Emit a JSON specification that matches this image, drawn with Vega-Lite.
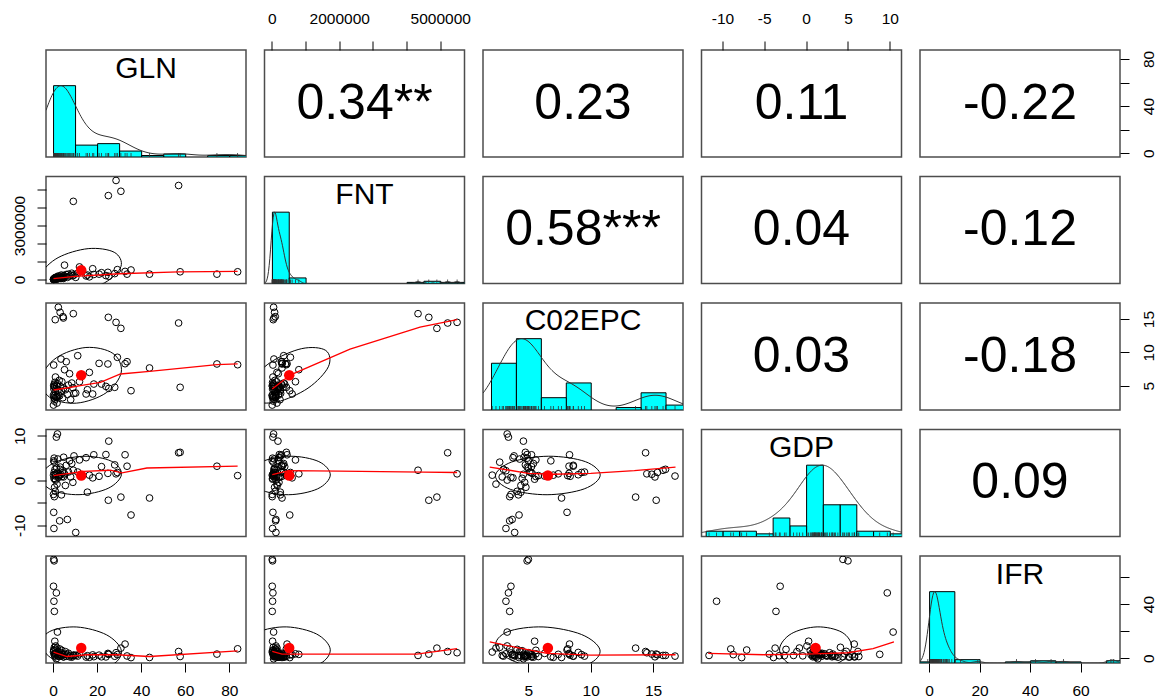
{
"$schema":"https://vega.github.io/schema/vega-lite/v6.json",
"background":"white",
"padding":{"left":11,"top":10,"right":5,"bottom":5},
"config":{
 "font":"Liberation Sans",
 "view":{"stroke":"#4d4d4d","strokeWidth":1.5},
 "axis":{"domain":false,"grid":false,"ticks":true,"tickColor":"black","tickWidth":1,"tickSize":9,"labelFont":"Liberation Sans","labelFontSize":15.5,"labelColor":"black","labelPadding":9,"labelOverlap":false,"labelBound":false,"labelFlush":false}
},
"datasets":{
"d":[
{"GLN":0.2,"FNT":10000,"C02EPC":2.1,"GDP":1.2,"IFR":4.5},
{"GLN":0.3,"FNT":30000,"C02EPC":8.1,"GDP":-7.1,"IFR":6.0},
{"GLN":0.4,"FNT":20000,"C02EPC":4.5,"GDP":0.5,"IFR":5.5},
{"GLN":0.5,"FNT":50000,"C02EPC":5.2,"GDP":1.8,"IFR":3.0},
{"GLN":0.6,"FNT":40000,"C02EPC":2.7,"GDP":4.1,"IFR":8.0},
{"GLN":0.7,"FNT":80000,"C02EPC":4.8,"GDP":-1.5,"IFR":2.0},
{"GLN":0.8,"FNT":20000,"C02EPC":5.5,"GDP":0.3,"IFR":12.5},
{"GLN":0.9,"FNT":60000,"C02EPC":3.0,"GDP":2.5,"IFR":1.5},
{"GLN":1.0,"FNT":100000,"C02EPC":4.1,"GDP":-2.4,"IFR":6.5},
{"GLN":1.1,"FNT":30000,"C02EPC":6.3,"GDP":1.0,"IFR":3.5},
{"GLN":1.2,"FNT":120000,"C02EPC":3.3,"GDP":0.1,"IFR":9.0},
{"GLN":1.4,"FNT":50000,"C02EPC":4.6,"GDP":1.4,"IFR":-0.5},
{"GLN":1.6,"FNT":80000,"C02EPC":5.0,"GDP":2.8,"IFR":4.0},
{"GLN":1.8,"FNT":150000,"C02EPC":2.4,"GDP":-0.8,"IFR":7.5},
{"GLN":2.0,"FNT":40000,"C02EPC":5.3,"GDP":1.6,"IFR":2.5},
{"GLN":2.2,"FNT":70000,"C02EPC":4.3,"GDP":4.8,"IFR":5.0},
{"GLN":2.5,"FNT":200000,"C02EPC":3.6,"GDP":0.7,"IFR":3.8},
{"GLN":2.8,"FNT":90000,"C02EPC":5.8,"GDP":1.1,"IFR":1.2},
{"GLN":3.0,"FNT":110000,"C02EPC":3.5,"GDP":-9.0,"IFR":6.8},
{"GLN":3.3,"FNT":180000,"C02EPC":4.9,"GDP":3.0,"IFR":2.2},
{"GLN":3.6,"FNT":60000,"C02EPC":9.0,"GDP":1.3,"IFR":4.2},
{"GLN":3.8,"FNT":250000,"C02EPC":4.2,"GDP":-3.2,"IFR":1.8},
{"GLN":4.0,"FNT":140000,"C02EPC":5.6,"GDP":0.9,"IFR":5.8},
{"GLN":4.4,"FNT":100000,"C02EPC":3.2,"GDP":2.2,"IFR":3.2},
{"GLN":4.8,"FNT":220000,"C02EPC":4.65,"GDP":5.2,"IFR":0.9},
{"GLN":5.2,"FNT":800000,"C02EPC":7.4,"GDP":1.5,"IFR":2.8},
{"GLN":5.6,"FNT":160000,"C02EPC":4.4,"GDP":-1.1,"IFR":4.8},
{"GLN":6.0,"FNT":280000,"C02EPC":8.6,"GDP":3.4,"IFR":1.4},
{"GLN":6.5,"FNT":120000,"C02EPC":3.7,"GDP":-8.7,"IFR":2.6},
{"GLN":7.0,"FNT":300000,"C02EPC":5.1,"GDP":1.9,"IFR":3.6},
{"GLN":7.5,"FNT":190000,"C02EPC":6.8,"GDP":4.4,"IFR":1.0},
{"GLN":8.0,"FNT":240000,"C02EPC":2.9,"GDP":0.8,"IFR":2.0},
{"GLN":8.5,"FNT":350000,"C02EPC":5.4,"GDP":3.8,"IFR":0.7},
{"GLN":9.0,"FNT":210000,"C02EPC":4.7,"GDP":-0.4,"IFR":1.7},
{"GLN":9.5,"FNT":260000,"C02EPC":3.85,"GDP":5.5,"IFR":2.3},
{"GLN":10.3,"FNT":120000,"C02EPC":3.9,"GDP":-11.6,"IFR":2.0},
{"GLN":11.2,"FNT":350000,"C02EPC":9.5,"GDP":1.9,"IFR":1.5},
{"GLN":12.0,"FNT":700000,"C02EPC":5.6,"GDP":4.6,"IFR":3.2},
{"GLN":15.0,"FNT":200000,"C02EPC":3.76,"GDP":5.1,"IFR":0.8},
{"GLN":15.6,"FNT":250000,"C02EPC":4.4,"GDP":-2.6,"IFR":1.8},
{"GLN":18.0,"FNT":600000,"C02EPC":3.76,"GDP":0.6,"IFR":2.4},
{"GLN":18.5,"FNT":280000,"C02EPC":5.25,"GDP":5.75,"IFR":1.1},
{"GLN":16.5,"FNT":150000,"C02EPC":7.0,"GDP":1.2,"IFR":0.6},
{"GLN":20.9,"FNT":300000,"C02EPC":8.35,"GDP":0.95,"IFR":2.2},
{"GLN":22.0,"FNT":380000,"C02EPC":5.25,"GDP":3.1,"IFR":1.0},
{"GLN":24.0,"FNT":220000,"C02EPC":4.9,"GDP":5.8,"IFR":0.9},
{"GLN":24.9,"FNT":400000,"C02EPC":8.26,"GDP":1.6,"IFR":3.5},
{"GLN":25.3,"FNT":180000,"C02EPC":4.6,"GDP":8.8,"IFR":2.8},
{"GLN":28.0,"FNT":330000,"C02EPC":4.76,"GDP":3.5,"IFR":1.4},
{"GLN":29.2,"FNT":550000,"C02EPC":9.26,"GDP":1.8,"IFR":2.6},
{"GLN":32.7,"FNT":450000,"C02EPC":8.3,"GDP":5.75,"IFR":10.4},
{"GLN":33.6,"FNT":300000,"C02EPC":8.6,"GDP":3.2,"IFR":1.6},
{"GLN":35.4,"FNT":530000,"C02EPC":4.25,"GDP":-7.7,"IFR":0.4},
{"GLN":9.2,"FNT":4340000,"C02EPC":15.8,"GDP":2.3,"IFR":2.0},
{"GLN":25.1,"FNT":4660000,"C02EPC":15.25,"GDP":-4.4,"IFR":3.0},
{"GLN":28.6,"FNT":5500000,"C02EPC":14.5,"GDP":1.5,"IFR":4.0},
{"GLN":30.8,"FNT":4900000,"C02EPC":13.6,"GDP":-3.7,"IFR":7.4},
{"GLN":57.0,"FNT":5220000,"C02EPC":14.4,"GDP":6.2,"IFR":4.9},
{"GLN":43.8,"FNT":300000,"C02EPC":7.66,"GDP":-3.9,"IFR":0.5},
{"GLN":57.7,"FNT":430000,"C02EPC":4.76,"GDP":6.3,"IFR":1.2},
{"GLN":74.4,"FNT":300000,"C02EPC":8.26,"GDP":3.2,"IFR":3.0},
{"GLN":83.8,"FNT":430000,"C02EPC":8.15,"GDP":1.1,"IFR":6.9},
{"GLN":2.4,"FNT":50000,"C02EPC":16.76,"GDP":1.0,"IFR":1.5},
{"GLN":3.2,"FNT":80000,"C02EPC":16.0,"GDP":2.5,"IFR":2.0},
{"GLN":4.5,"FNT":100000,"C02EPC":15.35,"GDP":1.8,"IFR":2.5},
{"GLN":4.7,"FNT":60000,"C02EPC":15.15,"GDP":0.8,"IFR":1.0},
{"GLN":1.0,"FNT":40000,"C02EPC":14.9,"GDP":1.4,"IFR":3.0},
{"GLN":0.3,"FNT":10000,"C02EPC":5.0,"GDP":4.4,"IFR":73.1},
{"GLN":0.5,"FNT":20000,"C02EPC":4.9,"GDP":5.0,"IFR":72.0},
{"GLN":0.2,"FNT":10000,"C02EPC":3.6,"GDP":-3.1,"IFR":53.2},
{"GLN":1.5,"FNT":30000,"C02EPC":3.4,"GDP":9.7,"IFR":48.3},
{"GLN":0.4,"FNT":20000,"C02EPC":3.2,"GDP":-10.7,"IFR":42.1},
{"GLN":0.6,"FNT":10000,"C02EPC":3.5,"GDP":-3.6,"IFR":34.6},
{"GLN":2.0,"FNT":50000,"C02EPC":3.3,"GDP":10.4,"IFR":19.3}
],
"ell":[
{"p":"21","k":0,"GLN":27.78,"FNT":1513000},{"p":"21","k":1,"GLN":15.96,"FNT":1716000},{"p":"21","k":2,"GLN":2.29,"FNT":1215000},{"p":"21","k":3,"GLN":-5.23,"FNT":303000},{"p":"21","k":4,"GLN":-2.18,"FNT":-485000},{"p":"21","k":5,"GLN":9.64,"FNT":-688000},{"p":"21","k":6,"GLN":23.31,"FNT":-187000},{"p":"21","k":7,"GLN":30.83,"FNT":725000},
{"p":"31","k":0,"GLN":27.15,"C02EPC":9.85},{"p":"31","k":1,"GLN":14.92,"C02EPC":10.73},{"p":"31","k":2,"GLN":1.44,"C02EPC":9.17},{"p":"31","k":3,"GLN":-5.38,"C02EPC":6.07},{"p":"31","k":4,"GLN":-1.55,"C02EPC":3.27},{"p":"31","k":5,"GLN":10.68,"C02EPC":2.39},{"p":"31","k":6,"GLN":24.16,"C02EPC":3.95},{"p":"31","k":7,"GLN":30.98,"C02EPC":7.05},
{"p":"41","k":0,"GLN":26.43,"GDP":4.33},{"p":"41","k":1,"GLN":13.81,"GDP":5.42},{"p":"41","k":2,"GLN":0.59,"GDP":4.0},{"p":"41","k":3,"GLN":-5.47,"GDP":0.89},{"p":"41","k":4,"GLN":-0.83,"GDP":-2.07},{"p":"41","k":5,"GLN":11.79,"GDP":-3.16},{"p":"41","k":6,"GLN":25.01,"GDP":-1.74},{"p":"41","k":7,"GLN":31.07,"GDP":1.37},
{"p":"51","k":0,"GLN":24.23,"IFR":17.29},{"p":"51","k":1,"GLN":10.77,"IFR":23.05},{"p":"51","k":2,"GLN":-1.49,"IFR":19.73},{"p":"51","k":3,"GLN":-5.39,"IFR":9.28},{"p":"51","k":4,"GLN":1.37,"IFR":-2.19},{"p":"51","k":5,"GLN":14.83,"IFR":-7.95},{"p":"51","k":6,"GLN":27.09,"IFR":-4.63},{"p":"51","k":7,"GLN":30.99,"IFR":5.82},
{"p":"32","k":0,"FNT":1598000,"C02EPC":10.29},{"p":"32","k":1,"FNT":885000,"C02EPC":10.56},{"p":"32","k":2,"FNT":-45000,"C02EPC":8.49},{"p":"32","k":3,"FNT":-648000,"C02EPC":5.28},{"p":"32","k":4,"FNT":-570000,"C02EPC":2.83},{"p":"32","k":5,"FNT":143000,"C02EPC":2.56},{"p":"32","k":6,"FNT":1073000,"C02EPC":4.64},{"p":"32","k":7,"FNT":1676000,"C02EPC":7.84},
{"p":"42","k":0,"FNT":1394000,"GDP":4.23},{"p":"42","k":1,"FNT":538000,"GDP":5.43},{"p":"42","k":2,"FNT":-331000,"GDP":4.11},{"p":"42","k":3,"FNT":-706000,"GDP":1.04},{"p":"42","k":4,"FNT":-366000,"GDP":-1.97},{"p":"42","k":5,"FNT":490000,"GDP":-3.17},{"p":"42","k":6,"FNT":1359000,"GDP":-1.85},{"p":"42","k":7,"FNT":1734000,"GDP":1.22},
{"p":"52","k":0,"FNT":1323000,"IFR":17.9},{"p":"52","k":1,"FNT":441000,"IFR":23.12},{"p":"52","k":2,"FNT":-399000,"IFR":19.22},{"p":"52","k":3,"FNT":-704000,"IFR":8.49},{"p":"52","k":4,"FNT":-295000,"IFR":-2.8},{"p":"52","k":5,"FNT":587000,"IFR":-8.02},{"p":"52","k":6,"FNT":1427000,"IFR":-4.12},{"p":"52","k":7,"FNT":1732000,"IFR":6.61},
{"p":"43","k":0,"C02EPC":9.57,"GDP":4.22},{"p":"43","k":1,"C02EPC":6.62,"GDP":5.43},{"p":"43","k":2,"C02EPC":3.64,"GDP":4.12},{"p":"43","k":3,"C02EPC":2.36,"GDP":1.07},{"p":"43","k":4,"C02EPC":3.55,"GDP":-1.96},{"p":"43","k":5,"C02EPC":6.5,"GDP":-3.17},{"p":"43","k":6,"C02EPC":9.48,"GDP":-1.86},{"p":"43","k":7,"C02EPC":10.76,"GDP":1.19},
{"p":"53","k":0,"C02EPC":9.25,"IFR":17.54},{"p":"53","k":1,"C02EPC":6.18,"IFR":23.09},{"p":"53","k":2,"C02EPC":3.33,"IFR":19.53},{"p":"53","k":3,"C02EPC":2.38,"IFR":8.96},{"p":"53","k":4,"C02EPC":3.87,"IFR":-2.44},{"p":"53","k":5,"C02EPC":6.94,"IFR":-7.99},{"p":"53","k":6,"C02EPC":9.79,"IFR":-4.43},{"p":"53","k":7,"C02EPC":10.74,"IFR":6.14},
{"p":"54","k":0,"GDP":4.3,"IFR":19.07},{"p":"54","k":1,"GDP":1.32,"IFR":23.13},{"p":"54","k":2,"GDP":-1.77,"IFR":18.07},{"p":"54","k":3,"GDP":-3.17,"IFR":6.85},{"p":"54","k":4,"GDP":-2.04,"IFR":-3.97},{"p":"54","k":5,"GDP":0.94,"IFR":-8.03},{"p":"54","k":6,"GDP":4.03,"IFR":-2.97},{"p":"54","k":7,"GDP":5.43,"IFR":8.25}
],
"fit":[
{"p":"21","k":0,"GLN":0.2,"FNT":50000},{"p":"21","k":1,"GLN":10,"FNT":170000},{"p":"21","k":2,"GLN":30,"FNT":320000},{"p":"21","k":3,"GLN":57,"FNT":420000},{"p":"21","k":4,"GLN":83.8,"FNT":450000},
{"p":"31","k":0,"GLN":0.2,"C02EPC":4.36},{"p":"31","k":1,"GLN":6.3,"C02EPC":4.66},{"p":"31","k":2,"GLN":12.4,"C02EPC":5.0},{"p":"31","k":3,"GLN":21.5,"C02EPC":5.5},{"p":"31","k":4,"GLN":30.6,"C02EPC":6.76},{"p":"31","k":5,"GLN":43.8,"C02EPC":7.16},{"p":"31","k":6,"GLN":74.4,"C02EPC":8.15},{"p":"31","k":7,"GLN":83.8,"C02EPC":8.26},
{"p":"41","k":0,"GLN":0.2,"GDP":1.1},{"p":"41","k":1,"GLN":13.8,"GDP":2.06},{"p":"41","k":2,"GLN":26,"GDP":2.3},{"p":"41","k":3,"GLN":31.3,"GDP":1.7},{"p":"41","k":4,"GLN":42.6,"GDP":2.8},{"p":"41","k":5,"GLN":83.8,"GDP":3.2},
{"p":"51","k":0,"GLN":0.2,"IFR":4.5},{"p":"51","k":1,"GLN":6.3,"IFR":1.2},{"p":"51","k":2,"GLN":15.4,"IFR":2.5},{"p":"51","k":3,"GLN":29,"IFR":2.5},{"p":"51","k":4,"GLN":43.8,"IFR":1.2},{"p":"51","k":5,"GLN":83.8,"IFR":5.4},
{"p":"32","k":0,"FNT":10000,"C02EPC":4.5},{"p":"32","k":1,"FNT":540000,"C02EPC":6.6},{"p":"32","k":2,"FNT":2320000,"C02EPC":10.5},{"p":"32","k":3,"FNT":4400000,"C02EPC":13.8},{"p":"32","k":4,"FNT":5500000,"C02EPC":14.9},
{"p":"42","k":0,"FNT":10000,"GDP":1.3},{"p":"42","k":1,"FNT":500000,"GDP":2.2},{"p":"42","k":2,"FNT":2000000,"GDP":2.1},{"p":"42","k":3,"FNT":4500000,"GDP":1.9},{"p":"42","k":4,"FNT":5500000,"GDP":1.8},
{"p":"52","k":0,"FNT":10000,"IFR":5},{"p":"52","k":1,"FNT":300000,"IFR":3},{"p":"52","k":2,"FNT":4300000,"IFR":3},{"p":"52","k":3,"FNT":5500000,"IFR":7},
{"p":"43","k":0,"C02EPC":1.9,"GDP":3.0},{"p":"43","k":1,"C02EPC":3.5,"GDP":2.3},{"p":"43","k":2,"C02EPC":5,"GDP":1.6},{"p":"43","k":3,"C02EPC":7,"GDP":1.4},{"p":"43","k":4,"C02EPC":10,"GDP":1.6},{"p":"43","k":5,"C02EPC":13.5,"GDP":2.2},{"p":"43","k":6,"C02EPC":16.8,"GDP":3.0},
{"p":"53","k":0,"C02EPC":1.9,"IFR":12},{"p":"53","k":1,"C02EPC":4,"IFR":8},{"p":"53","k":2,"C02EPC":6.5,"IFR":3.5},{"p":"53","k":3,"C02EPC":10,"IFR":2.3},{"p":"53","k":4,"C02EPC":16.8,"IFR":2.5},
{"p":"54","k":0,"GDP":-11.7,"IFR":3.5},{"p":"54","k":1,"GDP":-5,"IFR":2.5},{"p":"54","k":2,"GDP":0,"IFR":3},{"p":"54","k":3,"GDP":5,"IFR":4},{"p":"54","k":4,"GDP":8,"IFR":7},{"p":"54","k":5,"GDP":10.5,"IFR":12}
]
},
"columns":5,
"spacing":{"row":19.5,"column":18.5},
"bounds":"flush",
"concat":[
{"width":200,"height":107,"resolve":{"scale":{"y":"independent"}},"layer":[
 {"data":{"name":"d"},"mark":{"type":"bar","fill":"#00FFFF","stroke":"black","strokeWidth":1,"binSpacing":0,"clip":true},"encoding":{"x":{"field":"GLN","type":"quantitative","bin":{"extent":[0,90],"step":10},"scale":{"domain":[-3.2,87.6],"nice":false,"zero":false},"axis":null},"y":{"aggregate":"count","type":"quantitative","scale":{"range":[107,35.667],"nice":false,"zero":true},"axis":null}}},
 {"data":{"name":"d"},"transform":[{"density":"GLN","bandwidth":6.5,"extent":[-3.2,87.6],"steps":200}],"mark":{"type":"line","stroke":"#333333","strokeWidth":1,"clip":true},"encoding":{"x":{"field":"value","type":"quantitative","scale":{"domain":[-3.2,87.6],"nice":false,"zero":false},"axis":null},"y":{"field":"density","type":"quantitative","scale":{"range":[107,35.667],"nice":false,"zero":true},"axis":null}}},
 {"data":{"name":"d"},"mark":{"type":"tick","orient":"vertical","color":"#333333","opacity":1,"size":4,"thickness":0.8,"yOffset":-2,"clip":true},"encoding":{"x":{"field":"GLN","type":"quantitative","scale":{"domain":[-3.2,87.6],"nice":false,"zero":false},"axis":null},"y":{"datum":-3.2,"type":"quantitative","scale":{"domain":[-3.2,87.6],"nice":false,"zero":false},"axis":null}}},
 {"data":{"values":[{}]},"mark":{"type":"text","text":"GLN","fontSize":30,"color":"black"},"encoding":{"x":{"datum":42.2,"type":"quantitative","scale":{"domain":[-3.2,87.6],"nice":false,"zero":false},"axis":null},"y":{"datum":71.9,"type":"quantitative","scale":{"domain":[-3.2,87.6],"nice":false,"zero":false},"axis":null}}}
]},
{"width":200,"height":107,"data":{"values":[{}]},"mark":{"type":"text","text":"0.34**","fontSize":50,"color":"black"},"encoding":{"x":{"datum":2750000,"type":"quantitative","scale":{"domain":[-220000,5720000],"nice":false,"zero":false},"axis":{"orient":"top","title":null,"values":[0,1000000,2000000,3000000,4000000,5000000],"labelExpr":"(datum.value==0||datum.value==2000000||datum.value==5000000) ? toString(datum.value) : ''","labelAngle":0,"labelAlign":"center","labelBaseline":"bottom","labelPadding":15}},"y":{"datum":42.2,"type":"quantitative","scale":{"domain":[-3.2,87.6],"nice":false,"zero":false},"axis":null}}},
{"width":200,"height":107,"data":{"values":[{}]},"mark":{"type":"text","text":"0.23","fontSize":50,"color":"black"},"encoding":{"x":{"datum":9.38,"type":"quantitative","scale":{"domain":[1.36,17.4],"nice":false,"zero":false},"axis":null},"y":{"datum":42.2,"type":"quantitative","scale":{"domain":[-3.2,87.6],"nice":false,"zero":false},"axis":null}}},
{"width":200,"height":107,"data":{"values":[{}]},"mark":{"type":"text","text":"0.11","fontSize":50,"color":"black"},"encoding":{"x":{"datum":-0.55,"type":"quantitative","scale":{"domain":[-12.5,11.4],"nice":false,"zero":false},"axis":{"orient":"top","title":null,"values":[-10,-5,0,5,10],"labelExpr":"toString(datum.value)","labelAngle":0,"labelAlign":"center","labelBaseline":"bottom","labelPadding":15}},"y":{"datum":42.2,"type":"quantitative","scale":{"domain":[-3.2,87.6],"nice":false,"zero":false},"axis":null}}},
{"width":200,"height":107,"data":{"values":[{}]},"mark":{"type":"text","text":"-0.22","fontSize":50,"color":"black"},"encoding":{"x":{"datum":36,"type":"quantitative","scale":{"domain":[-3.6,75.6],"nice":false,"zero":false},"axis":null},"y":{"datum":42.2,"type":"quantitative","scale":{"domain":[-3.2,87.6],"nice":false,"zero":false},"axis":{"orient":"right","title":null,"values":[0,20,40,60,80],"labelExpr":"(datum.value==0||datum.value==40||datum.value==80) ? toString(datum.value) : ''","labelAngle":-90,"labelAlign":"center","labelBaseline":"top","labelPadding":12}}}},

{"width":200,"height":107,"resolve":{"scale":{"y":"independent"}},"encoding":{"x":{"field":"GLN","type":"quantitative","scale":{"domain":[-3.2,87.6],"nice":false,"zero":false},"axis":null},"y":{"field":"FNT","type":"quantitative","scale":{"domain":[-220000,5720000],"nice":false,"zero":false},"axis":null}},"layer":[
 {"data":{"name":"d"},"mark":{"type":"point","shape":"circle","filled":false,"stroke":"black","strokeWidth":1,"size":45,"opacity":1,"clip":true}},
 {"data":{"name":"ell"},"transform":[{"filter":"datum.p=='21'"}],"mark":{"type":"line","interpolate":"cardinal-closed","stroke":"black","strokeWidth":1,"clip":true},"encoding":{"order":{"field":"k","type":"quantitative"}}},
 {"data":{"name":"fit"},"transform":[{"filter":"datum.p=='21'"}],"mark":{"type":"line","stroke":"red","strokeWidth":1.3,"clip":true},"encoding":{"order":{"field":"k","type":"quantitative"}}},
 {"data":{"name":"d"},"mark":{"type":"point","shape":"circle","filled":true,"fill":"red","strokeWidth":0,"size":110,"opacity":1,"clip":true},"encoding":{"x":{"aggregate":"mean","field":"GLN","type":"quantitative","scale":{"domain":[-3.2,87.6],"nice":false,"zero":false},"axis":null},"y":{"aggregate":"mean","field":"FNT","type":"quantitative","scale":{"domain":[-220000,5720000],"nice":false,"zero":false},"axis":null}}},
 {"data":{"values":[{}]},"mark":{"type":"text","text":""},"encoding":{"x":{"datum":42.2,"type":"quantitative","scale":{"domain":[-3.2,87.6],"nice":false,"zero":false},"axis":null},"y":{"datum":2750000,"type":"quantitative","scale":{"domain":[-220000,5720000],"nice":false,"zero":false},"axis":{"orient":"left","title":null,"values":[0,1000000,2000000,3000000,4000000,5000000],"labelExpr":"(datum.value==0||datum.value==3000000) ? toString(datum.value) : ''","labelAngle":-90,"labelAlign":"center","labelBaseline":"bottom","labelPadding":10}}}}
]},
{"width":200,"height":107,"resolve":{"scale":{"y":"independent"}},"layer":[
 {"data":{"name":"d"},"mark":{"type":"bar","fill":"#00FFFF","stroke":"black","strokeWidth":1,"binSpacing":0,"clip":true},"encoding":{"x":{"field":"FNT","type":"quantitative","bin":{"extent":[0,6000000],"step":500000},"scale":{"domain":[-220000,5720000],"nice":false,"zero":false},"axis":null},"y":{"aggregate":"count","type":"quantitative","scale":{"range":[107,35.667],"nice":false,"zero":true},"axis":null}}},
 {"data":{"name":"d"},"transform":[{"density":"FNT","bandwidth":80000,"extent":[-220000,5720000],"steps":300}],"mark":{"type":"line","stroke":"#333333","strokeWidth":1,"clip":true},"encoding":{"x":{"field":"value","type":"quantitative","scale":{"domain":[-220000,5720000],"nice":false,"zero":false},"axis":null},"y":{"field":"density","type":"quantitative","scale":{"range":[107,35.667],"nice":false,"zero":true},"axis":null}}},
 {"data":{"name":"d"},"mark":{"type":"tick","orient":"vertical","color":"#333333","opacity":1,"size":4,"thickness":0.8,"yOffset":-2,"clip":true},"encoding":{"x":{"field":"FNT","type":"quantitative","scale":{"domain":[-220000,5720000],"nice":false,"zero":false},"axis":null},"y":{"datum":-220000,"type":"quantitative","scale":{"domain":[-220000,5720000],"nice":false,"zero":false},"axis":null}}},
 {"data":{"values":[{}]},"mark":{"type":"text","text":"FNT","fontSize":30,"color":"black"},"encoding":{"x":{"datum":2750000,"type":"quantitative","scale":{"domain":[-220000,5720000],"nice":false,"zero":false},"axis":null},"y":{"datum":4690000,"type":"quantitative","scale":{"domain":[-220000,5720000],"nice":false,"zero":false},"axis":null}}}
]},
{"width":200,"height":107,"data":{"values":[{}]},"mark":{"type":"text","text":"0.58***","fontSize":50,"color":"black"},"encoding":{"x":{"datum":9.38,"type":"quantitative","scale":{"domain":[1.36,17.4],"nice":false,"zero":false},"axis":null},"y":{"datum":2750000,"type":"quantitative","scale":{"domain":[-220000,5720000],"nice":false,"zero":false},"axis":null}}},
{"width":200,"height":107,"data":{"values":[{}]},"mark":{"type":"text","text":"0.04","fontSize":50,"color":"black"},"encoding":{"x":{"datum":-0.55,"type":"quantitative","scale":{"domain":[-12.5,11.4],"nice":false,"zero":false},"axis":null},"y":{"datum":2750000,"type":"quantitative","scale":{"domain":[-220000,5720000],"nice":false,"zero":false},"axis":null}}},
{"width":200,"height":107,"data":{"values":[{}]},"mark":{"type":"text","text":"-0.12","fontSize":50,"color":"black"},"encoding":{"x":{"datum":36,"type":"quantitative","scale":{"domain":[-3.6,75.6],"nice":false,"zero":false},"axis":null},"y":{"datum":2750000,"type":"quantitative","scale":{"domain":[-220000,5720000],"nice":false,"zero":false},"axis":null}}},

{"width":200,"height":107,"encoding":{"x":{"field":"GLN","type":"quantitative","scale":{"domain":[-3.2,87.6],"nice":false,"zero":false},"axis":null},"y":{"field":"C02EPC","type":"quantitative","scale":{"domain":[1.36,17.4],"nice":false,"zero":false},"axis":null}},"layer":[
 {"data":{"name":"d"},"mark":{"type":"point","shape":"circle","filled":false,"stroke":"black","strokeWidth":1,"size":45,"opacity":1,"clip":true}},
 {"data":{"name":"ell"},"transform":[{"filter":"datum.p=='31'"}],"mark":{"type":"line","interpolate":"cardinal-closed","stroke":"black","strokeWidth":1,"clip":true},"encoding":{"order":{"field":"k","type":"quantitative"}}},
 {"data":{"name":"fit"},"transform":[{"filter":"datum.p=='31'"}],"mark":{"type":"line","stroke":"red","strokeWidth":1.3,"clip":true},"encoding":{"order":{"field":"k","type":"quantitative"}}},
 {"data":{"name":"d"},"mark":{"type":"point","shape":"circle","filled":true,"fill":"red","strokeWidth":0,"size":110,"opacity":1,"clip":true},"encoding":{"x":{"aggregate":"mean","field":"GLN","type":"quantitative","scale":{"domain":[-3.2,87.6],"nice":false,"zero":false},"axis":null},"y":{"aggregate":"mean","field":"C02EPC","type":"quantitative","scale":{"domain":[1.36,17.4],"nice":false,"zero":false},"axis":null}}}
]},
{"width":200,"height":107,"encoding":{"x":{"field":"FNT","type":"quantitative","scale":{"domain":[-220000,5720000],"nice":false,"zero":false},"axis":null},"y":{"field":"C02EPC","type":"quantitative","scale":{"domain":[1.36,17.4],"nice":false,"zero":false},"axis":null}},"layer":[
 {"data":{"name":"d"},"mark":{"type":"point","shape":"circle","filled":false,"stroke":"black","strokeWidth":1,"size":45,"opacity":1,"clip":true}},
 {"data":{"name":"ell"},"transform":[{"filter":"datum.p=='32'"}],"mark":{"type":"line","interpolate":"cardinal-closed","stroke":"black","strokeWidth":1,"clip":true},"encoding":{"order":{"field":"k","type":"quantitative"}}},
 {"data":{"name":"fit"},"transform":[{"filter":"datum.p=='32'"}],"mark":{"type":"line","stroke":"red","strokeWidth":1.3,"clip":true},"encoding":{"order":{"field":"k","type":"quantitative"}}},
 {"data":{"name":"d"},"mark":{"type":"point","shape":"circle","filled":true,"fill":"red","strokeWidth":0,"size":110,"opacity":1,"clip":true},"encoding":{"x":{"aggregate":"mean","field":"FNT","type":"quantitative","scale":{"domain":[-220000,5720000],"nice":false,"zero":false},"axis":null},"y":{"aggregate":"mean","field":"C02EPC","type":"quantitative","scale":{"domain":[1.36,17.4],"nice":false,"zero":false},"axis":null}}}
]},
{"width":200,"height":107,"resolve":{"scale":{"y":"independent"}},"layer":[
 {"data":{"name":"d"},"mark":{"type":"bar","fill":"#00FFFF","stroke":"black","strokeWidth":1,"binSpacing":0,"clip":true},"encoding":{"x":{"field":"C02EPC","type":"quantitative","bin":{"extent":[2,18],"step":2},"scale":{"domain":[1.36,17.4],"nice":false,"zero":false},"axis":null},"y":{"aggregate":"count","type":"quantitative","scale":{"range":[107,35.667],"nice":false,"zero":true},"axis":null}}},
 {"data":{"name":"d"},"transform":[{"density":"C02EPC","bandwidth":1.45,"extent":[1.36,17.4],"steps":200}],"mark":{"type":"line","stroke":"#333333","strokeWidth":1,"clip":true},"encoding":{"x":{"field":"value","type":"quantitative","scale":{"domain":[1.36,17.4],"nice":false,"zero":false},"axis":null},"y":{"field":"density","type":"quantitative","scale":{"range":[107,35.667],"nice":false,"zero":true},"axis":null}}},
 {"data":{"name":"d"},"mark":{"type":"tick","orient":"vertical","color":"#333333","opacity":1,"size":4,"thickness":0.8,"yOffset":-2,"clip":true},"encoding":{"x":{"field":"C02EPC","type":"quantitative","scale":{"domain":[1.36,17.4],"nice":false,"zero":false},"axis":null},"y":{"datum":1.36,"type":"quantitative","scale":{"domain":[1.36,17.4],"nice":false,"zero":false},"axis":null}}},
 {"data":{"values":[{}]},"mark":{"type":"text","text":"C02EPC","fontSize":30,"color":"black"},"encoding":{"x":{"datum":9.38,"type":"quantitative","scale":{"domain":[1.36,17.4],"nice":false,"zero":false},"axis":null},"y":{"datum":14.63,"type":"quantitative","scale":{"domain":[1.36,17.4],"nice":false,"zero":false},"axis":null}}}
]},
{"width":200,"height":107,"data":{"values":[{}]},"mark":{"type":"text","text":"0.03","fontSize":50,"color":"black"},"encoding":{"x":{"datum":-0.55,"type":"quantitative","scale":{"domain":[-12.5,11.4],"nice":false,"zero":false},"axis":null},"y":{"datum":9.38,"type":"quantitative","scale":{"domain":[1.36,17.4],"nice":false,"zero":false},"axis":null}}},
{"width":200,"height":107,"data":{"values":[{}]},"mark":{"type":"text","text":"-0.18","fontSize":50,"color":"black"},"encoding":{"x":{"datum":36,"type":"quantitative","scale":{"domain":[-3.6,75.6],"nice":false,"zero":false},"axis":null},"y":{"datum":9.38,"type":"quantitative","scale":{"domain":[1.36,17.4],"nice":false,"zero":false},"axis":{"orient":"right","title":null,"values":[5,10,15],"labelExpr":"toString(datum.value)","labelAngle":-90,"labelAlign":"center","labelBaseline":"top","labelPadding":12}}}},

{"width":200,"height":107,"resolve":{"scale":{"y":"independent"}},"encoding":{"x":{"field":"GLN","type":"quantitative","scale":{"domain":[-3.2,87.6],"nice":false,"zero":false},"axis":null},"y":{"field":"GDP","type":"quantitative","scale":{"domain":[-12.5,11.4],"nice":false,"zero":false},"axis":null}},"layer":[
 {"data":{"name":"d"},"mark":{"type":"point","shape":"circle","filled":false,"stroke":"black","strokeWidth":1,"size":45,"opacity":1,"clip":true}},
 {"data":{"name":"ell"},"transform":[{"filter":"datum.p=='41'"}],"mark":{"type":"line","interpolate":"cardinal-closed","stroke":"black","strokeWidth":1,"clip":true},"encoding":{"order":{"field":"k","type":"quantitative"}}},
 {"data":{"name":"fit"},"transform":[{"filter":"datum.p=='41'"}],"mark":{"type":"line","stroke":"red","strokeWidth":1.3,"clip":true},"encoding":{"order":{"field":"k","type":"quantitative"}}},
 {"data":{"name":"d"},"mark":{"type":"point","shape":"circle","filled":true,"fill":"red","strokeWidth":0,"size":110,"opacity":1,"clip":true},"encoding":{"x":{"aggregate":"mean","field":"GLN","type":"quantitative","scale":{"domain":[-3.2,87.6],"nice":false,"zero":false},"axis":null},"y":{"aggregate":"mean","field":"GDP","type":"quantitative","scale":{"domain":[-12.5,11.4],"nice":false,"zero":false},"axis":null}}},
 {"data":{"values":[{}]},"mark":{"type":"text","text":""},"encoding":{"x":{"datum":42.2,"type":"quantitative","scale":{"domain":[-3.2,87.6],"nice":false,"zero":false},"axis":null},"y":{"datum":-0.55,"type":"quantitative","scale":{"domain":[-12.5,11.4],"nice":false,"zero":false},"axis":{"orient":"left","title":null,"values":[-10,-5,0,5,10],"labelExpr":"(datum.value==-10||datum.value==0||datum.value==10) ? toString(datum.value) : ''","labelAngle":-90,"labelAlign":"center","labelBaseline":"bottom","labelPadding":10}}}}
]},
{"width":200,"height":107,"encoding":{"x":{"field":"FNT","type":"quantitative","scale":{"domain":[-220000,5720000],"nice":false,"zero":false},"axis":null},"y":{"field":"GDP","type":"quantitative","scale":{"domain":[-12.5,11.4],"nice":false,"zero":false},"axis":null}},"layer":[
 {"data":{"name":"d"},"mark":{"type":"point","shape":"circle","filled":false,"stroke":"black","strokeWidth":1,"size":45,"opacity":1,"clip":true}},
 {"data":{"name":"ell"},"transform":[{"filter":"datum.p=='42'"}],"mark":{"type":"line","interpolate":"cardinal-closed","stroke":"black","strokeWidth":1,"clip":true},"encoding":{"order":{"field":"k","type":"quantitative"}}},
 {"data":{"name":"fit"},"transform":[{"filter":"datum.p=='42'"}],"mark":{"type":"line","stroke":"red","strokeWidth":1.3,"clip":true},"encoding":{"order":{"field":"k","type":"quantitative"}}},
 {"data":{"name":"d"},"mark":{"type":"point","shape":"circle","filled":true,"fill":"red","strokeWidth":0,"size":110,"opacity":1,"clip":true},"encoding":{"x":{"aggregate":"mean","field":"FNT","type":"quantitative","scale":{"domain":[-220000,5720000],"nice":false,"zero":false},"axis":null},"y":{"aggregate":"mean","field":"GDP","type":"quantitative","scale":{"domain":[-12.5,11.4],"nice":false,"zero":false},"axis":null}}}
]},
{"width":200,"height":107,"encoding":{"x":{"field":"C02EPC","type":"quantitative","scale":{"domain":[1.36,17.4],"nice":false,"zero":false},"axis":null},"y":{"field":"GDP","type":"quantitative","scale":{"domain":[-12.5,11.4],"nice":false,"zero":false},"axis":null}},"layer":[
 {"data":{"name":"d"},"mark":{"type":"point","shape":"circle","filled":false,"stroke":"black","strokeWidth":1,"size":45,"opacity":1,"clip":true}},
 {"data":{"name":"ell"},"transform":[{"filter":"datum.p=='43'"}],"mark":{"type":"line","interpolate":"cardinal-closed","stroke":"black","strokeWidth":1,"clip":true},"encoding":{"order":{"field":"k","type":"quantitative"}}},
 {"data":{"name":"fit"},"transform":[{"filter":"datum.p=='43'"}],"mark":{"type":"line","stroke":"red","strokeWidth":1.3,"clip":true},"encoding":{"order":{"field":"k","type":"quantitative"}}},
 {"data":{"name":"d"},"mark":{"type":"point","shape":"circle","filled":true,"fill":"red","strokeWidth":0,"size":110,"opacity":1,"clip":true},"encoding":{"x":{"aggregate":"mean","field":"C02EPC","type":"quantitative","scale":{"domain":[1.36,17.4],"nice":false,"zero":false},"axis":null},"y":{"aggregate":"mean","field":"GDP","type":"quantitative","scale":{"domain":[-12.5,11.4],"nice":false,"zero":false},"axis":null}}}
]},
{"width":200,"height":107,"resolve":{"scale":{"y":"independent"}},"layer":[
 {"data":{"name":"d"},"mark":{"type":"bar","fill":"#00FFFF","stroke":"black","strokeWidth":1,"binSpacing":0,"clip":true},"encoding":{"x":{"field":"GDP","type":"quantitative","bin":{"extent":[-12,12],"step":2},"scale":{"domain":[-12.5,11.4],"nice":false,"zero":false},"axis":null},"y":{"aggregate":"count","type":"quantitative","scale":{"range":[107,35.667],"nice":false,"zero":true},"axis":null}}},
 {"data":{"name":"d"},"transform":[{"density":"GDP","bandwidth":2.3,"extent":[-12.5,11.4],"steps":200}],"mark":{"type":"line","stroke":"#333333","strokeWidth":1,"clip":true},"encoding":{"x":{"field":"value","type":"quantitative","scale":{"domain":[-12.5,11.4],"nice":false,"zero":false},"axis":null},"y":{"field":"density","type":"quantitative","scale":{"range":[107,35.667],"nice":false,"zero":true},"axis":null}}},
 {"data":{"name":"d"},"mark":{"type":"tick","orient":"vertical","color":"#333333","opacity":1,"size":4,"thickness":0.8,"yOffset":-2,"clip":true},"encoding":{"x":{"field":"GDP","type":"quantitative","scale":{"domain":[-12.5,11.4],"nice":false,"zero":false},"axis":null},"y":{"datum":-12.5,"type":"quantitative","scale":{"domain":[-12.5,11.4],"nice":false,"zero":false},"axis":null}}},
 {"data":{"values":[{}]},"mark":{"type":"text","text":"GDP","fontSize":30,"color":"black"},"encoding":{"x":{"datum":-0.55,"type":"quantitative","scale":{"domain":[-12.5,11.4],"nice":false,"zero":false},"axis":null},"y":{"datum":7.27,"type":"quantitative","scale":{"domain":[-12.5,11.4],"nice":false,"zero":false},"axis":null}}}
]},
{"width":200,"height":107,"data":{"values":[{}]},"mark":{"type":"text","text":"0.09","fontSize":50,"color":"black"},"encoding":{"x":{"datum":36,"type":"quantitative","scale":{"domain":[-3.6,75.6],"nice":false,"zero":false},"axis":null},"y":{"datum":-0.55,"type":"quantitative","scale":{"domain":[-12.5,11.4],"nice":false,"zero":false},"axis":null}}},

{"width":200,"height":107,"resolve":{"scale":{"x":"independent"}},"encoding":{"x":{"field":"GLN","type":"quantitative","scale":{"domain":[-3.2,87.6],"nice":false,"zero":false},"axis":null},"y":{"field":"IFR","type":"quantitative","scale":{"domain":[-3.6,75.6],"nice":false,"zero":false},"axis":null}},"layer":[
 {"data":{"name":"d"},"mark":{"type":"point","shape":"circle","filled":false,"stroke":"black","strokeWidth":1,"size":45,"opacity":1,"clip":true}},
 {"data":{"name":"ell"},"transform":[{"filter":"datum.p=='51'"}],"mark":{"type":"line","interpolate":"cardinal-closed","stroke":"black","strokeWidth":1,"clip":true},"encoding":{"order":{"field":"k","type":"quantitative"}}},
 {"data":{"name":"fit"},"transform":[{"filter":"datum.p=='51'"}],"mark":{"type":"line","stroke":"red","strokeWidth":1.3,"clip":true},"encoding":{"order":{"field":"k","type":"quantitative"}}},
 {"data":{"name":"d"},"mark":{"type":"point","shape":"circle","filled":true,"fill":"red","strokeWidth":0,"size":110,"opacity":1,"clip":true},"encoding":{"x":{"aggregate":"mean","field":"GLN","type":"quantitative","scale":{"domain":[-3.2,87.6],"nice":false,"zero":false},"axis":null},"y":{"aggregate":"mean","field":"IFR","type":"quantitative","scale":{"domain":[-3.6,75.6],"nice":false,"zero":false},"axis":null}}},
 {"data":{"values":[{}]},"mark":{"type":"text","text":""},"encoding":{"x":{"datum":42.2,"type":"quantitative","scale":{"domain":[-3.2,87.6],"nice":false,"zero":false},"axis":{"orient":"bottom","title":null,"values":[0,20,40,60,80],"labelExpr":"toString(datum.value)","labelAngle":0,"labelAlign":"center","labelBaseline":"top","labelPadding":11}},"y":{"datum":36,"type":"quantitative","scale":{"domain":[-3.6,75.6],"nice":false,"zero":false},"axis":null}}}
]},
{"width":200,"height":107,"encoding":{"x":{"field":"FNT","type":"quantitative","scale":{"domain":[-220000,5720000],"nice":false,"zero":false},"axis":null},"y":{"field":"IFR","type":"quantitative","scale":{"domain":[-3.6,75.6],"nice":false,"zero":false},"axis":null}},"layer":[
 {"data":{"name":"d"},"mark":{"type":"point","shape":"circle","filled":false,"stroke":"black","strokeWidth":1,"size":45,"opacity":1,"clip":true}},
 {"data":{"name":"ell"},"transform":[{"filter":"datum.p=='52'"}],"mark":{"type":"line","interpolate":"cardinal-closed","stroke":"black","strokeWidth":1,"clip":true},"encoding":{"order":{"field":"k","type":"quantitative"}}},
 {"data":{"name":"fit"},"transform":[{"filter":"datum.p=='52'"}],"mark":{"type":"line","stroke":"red","strokeWidth":1.3,"clip":true},"encoding":{"order":{"field":"k","type":"quantitative"}}},
 {"data":{"name":"d"},"mark":{"type":"point","shape":"circle","filled":true,"fill":"red","strokeWidth":0,"size":110,"opacity":1,"clip":true},"encoding":{"x":{"aggregate":"mean","field":"FNT","type":"quantitative","scale":{"domain":[-220000,5720000],"nice":false,"zero":false},"axis":null},"y":{"aggregate":"mean","field":"IFR","type":"quantitative","scale":{"domain":[-3.6,75.6],"nice":false,"zero":false},"axis":null}}}
]},
{"width":200,"height":107,"resolve":{"scale":{"x":"independent"}},"encoding":{"x":{"field":"C02EPC","type":"quantitative","scale":{"domain":[1.36,17.4],"nice":false,"zero":false},"axis":null},"y":{"field":"IFR","type":"quantitative","scale":{"domain":[-3.6,75.6],"nice":false,"zero":false},"axis":null}},"layer":[
 {"data":{"name":"d"},"mark":{"type":"point","shape":"circle","filled":false,"stroke":"black","strokeWidth":1,"size":45,"opacity":1,"clip":true}},
 {"data":{"name":"ell"},"transform":[{"filter":"datum.p=='53'"}],"mark":{"type":"line","interpolate":"cardinal-closed","stroke":"black","strokeWidth":1,"clip":true},"encoding":{"order":{"field":"k","type":"quantitative"}}},
 {"data":{"name":"fit"},"transform":[{"filter":"datum.p=='53'"}],"mark":{"type":"line","stroke":"red","strokeWidth":1.3,"clip":true},"encoding":{"order":{"field":"k","type":"quantitative"}}},
 {"data":{"name":"d"},"mark":{"type":"point","shape":"circle","filled":true,"fill":"red","strokeWidth":0,"size":110,"opacity":1,"clip":true},"encoding":{"x":{"aggregate":"mean","field":"C02EPC","type":"quantitative","scale":{"domain":[1.36,17.4],"nice":false,"zero":false},"axis":null},"y":{"aggregate":"mean","field":"IFR","type":"quantitative","scale":{"domain":[-3.6,75.6],"nice":false,"zero":false},"axis":null}}},
 {"data":{"values":[{}]},"mark":{"type":"text","text":""},"encoding":{"x":{"datum":9.38,"type":"quantitative","scale":{"domain":[1.36,17.4],"nice":false,"zero":false},"axis":{"orient":"bottom","title":null,"values":[5,10,15],"labelExpr":"toString(datum.value)","labelAngle":0,"labelAlign":"center","labelBaseline":"top","labelPadding":11}},"y":{"datum":36,"type":"quantitative","scale":{"domain":[-3.6,75.6],"nice":false,"zero":false},"axis":null}}}
]},
{"width":200,"height":107,"encoding":{"x":{"field":"GDP","type":"quantitative","scale":{"domain":[-12.5,11.4],"nice":false,"zero":false},"axis":null},"y":{"field":"IFR","type":"quantitative","scale":{"domain":[-3.6,75.6],"nice":false,"zero":false},"axis":null}},"layer":[
 {"data":{"name":"d"},"mark":{"type":"point","shape":"circle","filled":false,"stroke":"black","strokeWidth":1,"size":45,"opacity":1,"clip":true}},
 {"data":{"name":"ell"},"transform":[{"filter":"datum.p=='54'"}],"mark":{"type":"line","interpolate":"cardinal-closed","stroke":"black","strokeWidth":1,"clip":true},"encoding":{"order":{"field":"k","type":"quantitative"}}},
 {"data":{"name":"fit"},"transform":[{"filter":"datum.p=='54'"}],"mark":{"type":"line","stroke":"red","strokeWidth":1.3,"clip":true},"encoding":{"order":{"field":"k","type":"quantitative"}}},
 {"data":{"name":"d"},"mark":{"type":"point","shape":"circle","filled":true,"fill":"red","strokeWidth":0,"size":110,"opacity":1,"clip":true},"encoding":{"x":{"aggregate":"mean","field":"GDP","type":"quantitative","scale":{"domain":[-12.5,11.4],"nice":false,"zero":false},"axis":null},"y":{"aggregate":"mean","field":"IFR","type":"quantitative","scale":{"domain":[-3.6,75.6],"nice":false,"zero":false},"axis":null}}}
]},
{"width":200,"height":107,"resolve":{"scale":{"x":"independent","y":"independent"}},"layer":[
 {"data":{"name":"d"},"mark":{"type":"bar","fill":"#00FFFF","stroke":"black","strokeWidth":1,"binSpacing":0,"clip":true},"encoding":{"x":{"field":"IFR","type":"quantitative","bin":{"extent":[-10,80],"step":10},"scale":{"domain":[-3.6,75.6],"nice":false,"zero":false},"axis":null},"y":{"aggregate":"count","type":"quantitative","scale":{"range":[107,35.667],"nice":false,"zero":true},"axis":null}}},
 {"data":{"name":"d"},"transform":[{"density":"IFR","bandwidth":1.8,"extent":[-3.6,75.6],"steps":250}],"mark":{"type":"line","stroke":"#333333","strokeWidth":1,"clip":true},"encoding":{"x":{"field":"value","type":"quantitative","scale":{"domain":[-3.6,75.6],"nice":false,"zero":false},"axis":null},"y":{"field":"density","type":"quantitative","scale":{"range":[107,35.667],"nice":false,"zero":true},"axis":null}}},
 {"data":{"name":"d"},"mark":{"type":"tick","orient":"vertical","color":"#333333","opacity":1,"size":4,"thickness":0.8,"yOffset":-2,"clip":true},"encoding":{"x":{"field":"IFR","type":"quantitative","scale":{"domain":[-3.6,75.6],"nice":false,"zero":false},"axis":null},"y":{"datum":-3.6,"type":"quantitative","scale":{"domain":[-3.6,75.6],"nice":false,"zero":false},"axis":null}}},
 {"data":{"values":[{}]},"mark":{"type":"text","text":"IFR","fontSize":30,"color":"black"},"encoding":{"x":{"datum":36,"type":"quantitative","scale":{"domain":[-3.6,75.6],"nice":false,"zero":false},"axis":{"orient":"bottom","title":null,"values":[0,20,40,60],"labelExpr":"toString(datum.value)","labelAngle":0,"labelAlign":"center","labelBaseline":"top","labelPadding":11}},"y":{"datum":61.9,"type":"quantitative","scale":{"domain":[-3.6,75.6],"nice":false,"zero":false},"axis":{"orient":"right","title":null,"values":[0,20,40,60],"labelExpr":"(datum.value==0||datum.value==40) ? toString(datum.value) : ''","labelAngle":-90,"labelAlign":"center","labelBaseline":"top","labelPadding":12}}}}
]}
]
}
